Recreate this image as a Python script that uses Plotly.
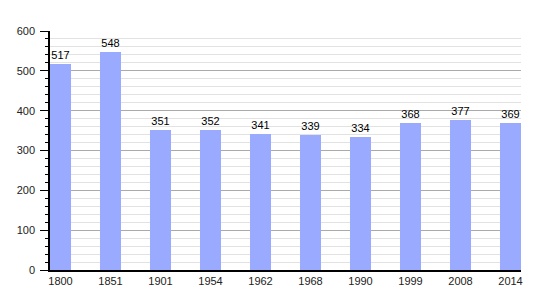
import plotly.graph_objects as go

years = ["1800", "1851", "1901", "1954", "1962", "1968", "1990", "1999", "2008", "2014"]
population = [517, 548, 351, 352, 341, 339, 334, 368, 377, 369]

fig = go.Figure()
fig.add_trace(go.Bar(
    x=list(range(len(years))), y=population,
    width=0.42,
    marker=dict(color="#99aaff", line=dict(width=0)),
    text=[str(v) for v in population], textposition="outside",
    textfont=dict(family="Liberation Sans, Arial, sans-serif", size=11, color="#000"),
    cliponaxis=False,
))
fig.update_layout(
    width=550, height=300,
    margin=dict(l=50, r=29, t=31, b=30),
    paper_bgcolor="white", plot_bgcolor="white",
    showlegend=False,
    font=dict(family="Liberation Sans, Arial, sans-serif", size=11, color="#222"),
    bargap=0,
)
fig.update_xaxes(
    range=[-0.21, 9.21], tickvals=list(range(len(years))), ticktext=years,
    showgrid=False, showline=True, linecolor="#000", linewidth=1.5,
    ticks="", zeroline=False, tickfont=dict(size=11, color="#222"),
)
fig.update_yaxes(
    range=[0, 600], dtick=100, showgrid=True, gridcolor="#aaaaaa", gridwidth=1,
    showline=True, linecolor="#000", linewidth=1.5,
    ticks="outside", ticklen=8, tickcolor="#000", zeroline=False,
    ticklabelstandoff=3,
    minor=dict(dtick=20, showgrid=True, gridcolor="#e2e2e2", ticks="outside", ticklen=3, tickcolor="#000"),
    tickfont=dict(size=11, color="#222"),
)
fig.write_html("out.html")
